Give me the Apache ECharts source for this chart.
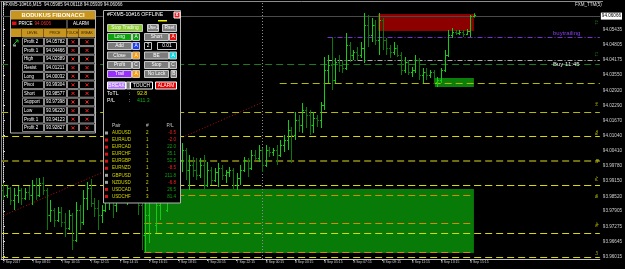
<!DOCTYPE html>
<html>
<head>
<meta charset="utf-8">
<script src="https://cdn.jsdelivr.net/npm/echarts@6/dist/echarts.min.js"></script>
<style>
  html, body { margin: 0; padding: 0; background: #000; }
  #chart { width: 625px; height: 269px; }
</style>
</head>
<body>
<div id="chart"></div>
<script>
  // time axis: a label every 8 bars (M15)
  const timeTickBars = [0, 8, 16, 24, 32, 40, 48, 56, 64, 72, 80, 88, 96, 104, 112, 120, 128];
  const timeLabels = ['7 Sep 2017', '7 Sep 08:15', '7 Sep 10:15', '7 Sep 12:15', '7 Sep 14:15', '7 Sep 16:15',
    '7 Sep 18:15', '7 Sep 20:15', '7 Sep 22:15', '8 Sep 00:15', '8 Sep 03:15', '8 Sep 05:15', '8 Sep 07:15',
    '8 Sep 09:15', '8 Sep 11:15', '8 Sep 13:15', '8 Sep 15:15'];
  const priceTicks = [94.05435, 94.04805, 94.04175, 94.0355, 94.0292, 94.0229, 94.0167, 94.0104, 94.0041,
    93.9978, 93.9915, 93.9852, 93.97905, 93.97275, 93.96645, 93.96015];

  const open = [
    93.98783, 93.98576, 93.98866, 93.98368, 93.98576, 93.98783, 93.98451, 93.98700, 93.98576, 93.98990,
    93.98576, 93.99074, 93.98783, 93.97746, 93.97953, 93.97538, 93.97870, 93.97455, 93.97206, 93.97746,
    93.96708, 93.97953, 93.97455, 93.98451, 93.98866, 93.98244, 93.98036, 93.97746, 93.97953, 93.98368,
    93.98576, 93.98161, 93.98700, 93.98990, 93.98783, 93.99074, 93.99198, 93.98576, 93.98161, 93.96916,
    93.97746, 93.98368, 93.97331, 93.98161, 93.98783, 93.97953, 93.98990, 93.99613, 93.99198, 94.00028,
    94.00443, 93.99613, 93.99821, 93.99613, 93.99406, 93.99821, 93.98990, 93.99613, 93.99198, 93.99530,
    93.99696, 93.99406, 93.99530, 93.99613, 93.98990, 93.99281, 93.99613, 94.00028, 93.99696, 94.00236,
    94.00111, 94.00443, 93.99821, 94.00443, 94.00360, 94.00443, 94.00236, 94.00651, 94.00858, 94.01273,
    94.01066, 94.01688, 94.01481, 94.02103, 94.01896, 94.01481, 94.01771, 94.01688, 94.02311, 94.03763,
    94.03971, 94.03348, 94.04095, 94.03971, 94.03846, 94.04801, 94.04386, 94.04510, 94.04386, 94.04676,
    94.05631, 94.05216, 94.05631, 94.05008, 94.05838, 94.05008, 94.04676, 94.04510, 94.04676, 94.04386,
    94.03763, 94.04095, 94.03680, 94.03763, 94.04178, 94.03556, 94.03680, 94.03556, 94.03680, 94.03265,
    94.03348, 94.03763, 94.04386, 94.05216, 94.05340, 94.05299, 94.05340, 94.05257, 94.05382, 94.05985
  ];
  const close = [
    93.98576, 93.98866, 93.98368, 93.98576, 93.98783, 93.98451, 93.98700, 93.98576, 93.98990, 93.98576,
    93.99074, 93.98783, 93.97746, 93.97953, 93.97538, 93.97870, 93.97455, 93.97206, 93.97746, 93.96708,
    93.97953, 93.97455, 93.98451, 93.98866, 93.98244, 93.98036, 93.97746, 93.97953, 93.98368, 93.98576,
    93.98161, 93.98700, 93.98990, 93.98783, 93.99074, 93.99198, 93.98576, 93.98161, 93.96916, 93.97746,
    93.98368, 93.97331, 93.98161, 93.98783, 93.97953, 93.98990, 93.99613, 93.99198, 94.00028, 94.00443,
    93.99613, 93.99821, 93.99613, 93.99406, 93.99821, 93.98990, 93.99613, 93.99198, 93.99530, 93.99696,
    93.99406, 93.99530, 93.99613, 93.98990, 93.99281, 93.99613, 94.00028, 93.99696, 94.00236, 94.00111,
    94.00443, 93.99821, 94.00443, 94.00360, 94.00443, 94.00236, 94.00651, 94.00858, 94.01273, 94.01066,
    94.01688, 94.01481, 94.02103, 94.01896, 94.01481, 94.01771, 94.01688, 94.02311, 94.03763, 94.03971,
    94.03348, 94.04095, 94.03971, 94.03846, 94.04801, 94.04386, 94.04510, 94.04386, 94.04676, 94.05631,
    94.05216, 94.05631, 94.05008, 94.05838, 94.05008, 94.04676, 94.04510, 94.04676, 94.04386, 94.03763,
    94.04095, 94.03680, 94.03763, 94.04178, 94.03556, 94.03680, 94.03556, 94.03680, 94.03265, 94.03348,
    94.03763, 94.04386, 94.05216, 94.05340, 94.05299, 94.05340, 94.05257, 94.05382, 94.05985, 94.06066
  ];
  const high = [
    93.99074, 93.98990, 93.98908, 93.98866, 93.98949, 93.98866, 93.98866, 93.98949, 93.99198, 93.99281,
    93.99281, 93.99323, 93.98866, 93.98368, 93.98036, 93.98078, 93.98078, 93.97829, 93.97953, 93.97829,
    93.98285, 93.98161, 93.98783, 93.99115, 93.99240, 93.98451, 93.98368, 93.98161, 93.98576, 93.98783,
    93.98990, 93.98866, 93.99198, 93.99406, 93.99281, 93.99530, 93.99406, 93.98990, 93.98576, 93.98368,
    93.98990, 93.99198, 93.98783, 93.99406, 93.99613, 93.99406, 94.00028, 94.00236, 94.00443, 94.00734,
    94.00526, 94.00236, 94.00153, 94.00111, 94.00111, 94.00236, 93.99945, 93.99738, 93.99696, 93.99904,
    93.99821, 93.99613, 93.99738, 93.99696, 93.99489, 93.99821, 94.00153, 94.00111, 94.00443, 94.00443,
    94.00651, 94.00526, 94.00651, 94.00568, 94.00526, 94.00651, 94.00858, 94.01066, 94.01688, 94.01398,
    94.02020, 94.01896, 94.02394, 94.02228, 94.02103, 94.02020, 94.01896, 94.02435, 94.04303, 94.04386,
    94.05133, 94.04261, 94.04386, 94.04178, 94.05299, 94.04925, 94.04593, 94.04718, 94.04925, 94.06129,
    94.06046, 94.05921, 94.05838, 94.06129, 94.05921, 94.05091, 94.04801, 94.04925, 94.04801, 94.04510,
    94.04303, 94.04178, 94.03888, 94.04386, 94.04261, 94.03846, 94.03846, 94.03763, 94.03763, 94.03473,
    94.03846, 94.04593, 94.05423, 94.05506, 94.05423, 94.05423, 94.05423, 94.05465, 94.06046, 94.06118
  ];
  const low = [
    93.98368, 93.98451, 93.98161, 93.97953, 93.98244, 93.98161, 93.98368, 93.98368, 93.98161, 93.98368,
    93.98493, 93.98576, 93.97123, 93.97455, 93.97248, 93.97455, 93.97248, 93.96833, 93.97123, 93.96293,
    93.96625, 93.97123, 93.97331, 93.97953, 93.98078, 93.97663, 93.97123, 93.97414, 93.97870, 93.97953,
    93.97621, 93.97870, 93.98368, 93.98451, 93.98161, 93.98576, 93.98368, 93.97746, 93.96293, 93.96169,
    93.96584, 93.96625, 93.96999, 93.97538, 93.97538, 93.97870, 93.98368, 93.98576, 93.98990, 93.99530,
    93.99198, 93.98783, 93.99323, 93.99198, 93.99281, 93.98700, 93.98908, 93.98990, 93.99115, 93.98908,
    93.99198, 93.99074, 93.99323, 93.98659, 93.98783, 93.98990, 93.99530, 93.99323, 93.99613, 94.00028,
    93.99945, 93.99530, 93.99738, 94.00153, 94.00194, 93.99821, 94.00153, 94.00360, 94.00443, 93.99904,
    94.00858, 94.01190, 94.01149, 94.01356, 94.01066, 94.01149, 94.01398, 94.01356, 94.02103, 94.03224,
    94.02933, 94.03224, 94.03680, 94.03639, 94.03763, 94.04095, 94.04178, 94.04178, 94.04261, 94.04054,
    94.04718, 94.04925, 94.04801, 94.04386, 94.04593, 94.04386, 94.04261, 94.04386, 94.04303, 94.03556,
    94.03639, 94.03556, 94.03473, 94.03639, 94.03348, 94.03224, 94.03348, 94.03431, 94.03182, 94.03058,
    94.03224, 94.03680, 94.04303, 94.05091, 94.05216, 94.05216, 94.05133, 94.05216, 94.05133, 94.05939
  ];

  // fibo levels from the panel table
  const levelNames = ['Profit 2', 'Profit 1', 'High', 'Resist', 'Long', 'Pivot', 'Short', 'Support', 'Low', 'Profit 1', 'Profit 2'];
  const levelPrices = [94.05782, 94.04466, 94.02389, 94.01211, 94.00032, 93.99304, 93.98577, 93.97398, 93.96220, 93.94123, 93.92827];
  const levelTags = ['T2', 'T1', 'Hi', 'Rs', 'Lg', 'Pv', 'Sh', 'Sp', 'Lo'];

  const pairs = ['AUDUSD', 'EURAUD', 'EURCAD', 'EURCHF', 'EURGBP', 'EURNZD', 'GBPUSD', 'NZDUSD', 'USDCAD', 'USDCHF'];
  const pairCount = [2, 1, 1, 1, 1, 1, 3, 2, 1, 3];
  const pairPL = [-0.5, -2.0, 22.0, 35.1, 52.5, -8.5, 211.8, -6.8, 26.5, 81.4];
  const pairSell = [false, true, true, true, true, true, false, false, true, true];

  const lastPrice = 94.06066;
  const buyPrice = 94.04178;
  const trailPrice = 94.05133;
  const entryLine = 94.03224;

  // zones: [fromBar, toBar, top, bottom]
  const redZone = [102.7, 129, 94.06087, 94.05382];
  const smallGreenZone = [118.3, 129, 94.03431, 94.03058];
  const bigGreenZone = [38.7, 129, 93.98825, 93.96169];

  let bars = [];
  for (let i = 0; i < open.length; i++) {
    bars.push([i, open[i], close[i], low[i], high[i]]);
  }

  const levelColors = ['#1d7a1d', '#1d7a1d', '#b8b800', '#dada00', '#6e6e10', '#dada00', '#dada00', '#dada00', '#dada00'];

  function renderBar(params, api) {
    let x = api.value(0);
    let o = api.coord([x, api.value(1)]);
    let c = api.coord([x, api.value(2)]);
    let l = api.coord([x, api.value(3)]);
    let h = api.coord([x, api.value(4)]);
    let up = api.value(2) >= api.value(1);
    let col = up ? '#14cc14' : '#0b780b';
    let cx = Math.round(h[0]) + 0.5;
    let oy = Math.round(o[1]) + 0.5;
    let cy = Math.round(c[1]) + 0.5;
    return {
      type: 'group',
      children: [
        { type: 'line', shape: { x1: cx, y1: h[1], x2: cx, y2: l[1] }, style: { stroke: col, lineWidth: 1 } },
        { type: 'line', shape: { x1: cx - 1.5, y1: oy, x2: cx, y2: oy }, style: { stroke: col, lineWidth: 1 } },
        { type: 'line', shape: { x1: cx, y1: cy, x2: cx + 1.5, y2: cy }, style: { stroke: col, lineWidth: 1 } }
      ]
    };
  }

  // level lines
  let levelLines = [];
  for (let i = 0; i < levelTags.length; i++) {
    levelLines.push({
      yAxis: levelPrices[i],
      lineStyle: { color: levelColors[i], type: [7, 4], width: i === 4 ? 2 : 1 }
    });
  }
  // inside the green zone the lower lines show orange
  [6, 7, 8].forEach(function (k) {
    levelLines.push([
      { coord: [bigGreenZone[0], levelPrices[k]], lineStyle: { color: '#d88a00', type: [7, 4], width: 1 } },
      { coord: [bigGreenZone[1], levelPrices[k]] }
    ]);
  });
  levelLines.push([
    { coord: [75.8, entryLine], lineStyle: { color: '#b8b800', type: [7, 4], width: 1 } },
    { coord: [163.5, entryLine] }
  ]);
  levelLines.push([
    { coord: [88.9, trailPrice], lineStyle: { color: '#7a2fd0', type: [5, 2, 1, 2], width: 1 } },
    { coord: [163.5, trailPrice] }
  ]);
  levelLines.push([
    { coord: [88.9, buyPrice], lineStyle: { color: '#b0b0b0', type: [5, 2, 1, 2], width: 1 } },
    { coord: [163.5, buyPrice] }
  ]);
  levelLines.push({ xAxis: 71, lineStyle: { color: '#8c8c8c', type: [1, 2], width: 1 } });

  // ---------- panels ----------
  const FONT = '"Liberation Sans", Arial, sans-serif';
  let g = [];
  function rect(x, y, w, h, fill, stroke) {
    g.push({ type: 'rect', z: 100, shape: { x: x, y: y, width: w, height: h },
      style: { fill: fill || 'none', stroke: stroke || null, lineWidth: 1 } });
  }
  function line(x1, y1, x2, y2, color) {
    g.push({ type: 'line', z: 101, shape: { x1: x1, y1: y1, x2: x2, y2: y2 }, style: { stroke: color, lineWidth: 1 } });
  }
  function txt(x, y, s, color, size, align, weight) {
    g.push({ type: 'text', z: 102, x: x, y: y,
      style: { text: s, fill: color, font: (weight || 'normal') + ' ' + size + 'px ' + FONT,
        align: align || 'left', verticalAlign: 'middle' } });
  }
  function cross(cx, cy) {
    line(cx - 1.5, cy - 1.5, cx + 1.5, cy + 1.5, '#ff2020');
    line(cx - 1.5, cy + 1.5, cx + 1.5, cy - 1.5, '#ff2020');
  }
  function btn(x, y, w, h, fill, label, border, color) {
    rect(x + 0.5, y + 0.5, w, h, fill, border || '#c8c8c8');
    txt(x + 0.5 + w / 2, y + 0.5 + h / 2, label, color || '#ffffff', 4.8, 'center');
  }

  // chart title + indicator name
  txt(3, 5, '#FXM5-10#16,M15  94.05985 94.06118 94.05939 94.06066', '#e8e8e8', 4.5);
  txt(575, 5, 'FXM_TTM(5)', '#e0e0e0', 4.5);
  txt(553, 33, 'buytrailing', '#8a3ff0', 6);
  txt(553, 64, 'Buy 11:45', '#e8e8e8', 6);

  // panel 1 : fibonacci table
  rect(10.5, 10.5, 85, 122.5, '#000', '#b4b4b4');
  rect(11, 11, 84, 8.5, '#c8961e');
  txt(53, 15.5, 'BODUKUS FIBONACCI', '#ffffff', 5.8, 'center', 'bold');
  rect(12, 21.5, 4.5, 3.5, '#e01010');
  txt(18.5, 24, 'PRICE', '#ffffff', 4.6);
  txt(34.5, 24, '94.0606', '#ff3030', 4.6);
  line(67, 20, 67, 28, '#909090');
  txt(81, 24, 'ALARM', '#ffffff', 4.6, 'center');
  rect(11, 28.5, 84, 8.5, '#c8961e');
  [21.5, 43.5, 66.5, 78.5].forEach(function (x) { line(x, 28.5, x, 37, '#7a5a10'); });
  txt(32.5, 33, 'LEVEL', '#3a2200', 3.6, 'center');
  txt(55, 33, 'PRICE', '#3a2200', 3.6, 'center');
  txt(72.5, 33, 'TOUCH', '#3a2200', 3.2, 'center');
  txt(87, 33, 'BREAK', '#3a2200', 3.4, 'center');
  for (let k = 0; k < levelNames.length; k++) {
    let yt = 37.5 + 8.6 * k;
    rect(22.5, yt + 0.5, 21, 7.6, '#000', '#8c8c8c');
    rect(44.5, yt + 0.5, 22, 7.6, '#000', '#8c8c8c');
    rect(67.5, yt + 0.5, 11, 7.6, '#000', '#8c8c8c');
    rect(79.5, yt + 0.5, 15, 7.6, '#000', '#8c8c8c');
    txt(24, yt + 4.4, levelNames[k], '#ffffff', 4.5);
    txt(46, yt + 4.4, levelPrices[k].toFixed(5), '#ffffff', 4.5);
    cross(73, yt + 4.3);
    cross(87, yt + 4.3);
  }
  line(13, 45, 18, 40, '#20c020');
  line(15.5, 40, 18, 40, '#20c020');
  line(18, 40, 18, 42.5, '#20c020');
  rect(13, 44.5, 3, 2, '#9a9a9a');

  // panel 2 : trade manager
  rect(103.5, 10.5, 77, 192.5, '#000', '#b4b4b4');
  txt(107, 15, '#FXM5-10#16 OFFLINE', '#ffffff', 5.2);
  rect(174, 12, 6, 6, '#e02020', '#ffffff');
  txt(177, 15, 'x', '#ffffff', 5, 'center', 'bold');
  rect(158, 20, 9, 1.5, '#f0f000');

  btn(107, 24, 35, 7, '#8ccf2c', 'Stop Trading');
  btn(147, 24, 11, 7, '#7c7c7c', 'Use1');
  btn(162, 24, 14, 7, '#7c7c7c', 'Rset');

  btn(107, 33, 24, 7, '#10a010', 'Long');
  btn(132, 33, 7, 7, '#10a010', 'A');
  btn(144, 33, 24, 7, '#7c7c7c', 'Short');
  btn(169, 33, 7, 7, '#e01010', 'A');

  btn(107, 42, 24, 7, '#7c7c7c', 'Add');
  btn(132, 42, 7, 7, '#1a3cff', 'A');
  btn(144, 42, 7, 7, '#000', '2');
  btn(157, 42, 19, 7, '#000', '0.01');

  btn(107, 51.5, 24, 7, '#7c7c7c', 'Close');
  btn(132, 51.5, 7, 7, '#ff9a00', 'A');
  btn(144, 51.5, 24, 7, '#7c7c7c', 'BE');
  btn(169, 51.5, 7, 7, '#10d8e0', 'A');

  btn(107, 61, 24, 7, '#7c7c7c', 'Profit');
  btn(132, 61, 7, 7, '#7c7c7c', 'C');
  btn(144, 61, 24, 7, '#7c7c7c', 'Stop');
  btn(169, 61, 7, 7, '#7c7c7c', 'C');

  btn(107, 70, 24, 7, '#9a30ff', 'Trail');
  btn(132, 70, 7, 7, '#ff9a00', 'A');
  btn(144, 70, 24, 7, '#7c7c7c', 'No Lock');
  btn(170.5, 70, 5.5, 7, '#7c7c7c', 'B');

  btn(107, 81.5, 18, 7, '#b070ff', 'BREAK', '#ffffff');
  btn(126, 81.5, 3.5, 7, '#7c7c7c', '');
  btn(130, 81.5, 22, 7, '#000', 'TOUCH', '#ffffff');
  btn(155, 81.5, 21, 7, '#e00000', 'ALARM', '#ffffff');

  txt(107, 94, 'ToTL', '#ffffff', 5.2);
  txt(129, 94, ':', '#ffffff', 5.2);
  txt(137, 94, '92.8', '#e6e600', 5.2);
  txt(107, 101, 'P/L', '#ffffff', 5.2);
  txt(129, 101, ':', '#ffffff', 5.2);
  txt(137, 101, '411.3', '#10b010', 5.2);

  txt(112, 125.5, 'Pair', '#c8c8c8', 4.8);
  txt(146, 125.5, '#', '#c8c8c8', 4.8);
  txt(170, 125.5, 'P/L', '#c8c8c8', 4.8, 'center');
  for (let k = 0; k < pairs.length; k++) {
    let yy = 133 + 7.05 * k;
    rect(105, yy - 1.5, 3, 3, pairSell[k] ? '#e01010' : '#a0a0a0');
    txt(112, yy, pairs[k], '#d8d800', 4.5);
    txt(146, yy, String(pairCount[k]), '#d8d800', 4.5);
    txt(176, yy, pairPL[k].toFixed(1), pairPL[k] < 0 ? '#ff2020' : '#10a010', 4.5, 'right');
  }

  // chart frame
  line(0.5, 1.5, 603, 1.5, '#8c8c8c');
  line(1.5, 1.5, 1.5, 259, '#8c8c8c');

  let myChart = echarts.init(document.getElementById('chart'));
  let option = {
    backgroundColor: '#000000',
    animation: false,
    grid: { left: 1, right: 22, top: 1, bottom: 10, show: false },
    xAxis: {
      type: 'value',
      min: -0.5,
      max: 163.5,
      axisLine: { lineStyle: { color: '#c0c0c0' } },
      axisTick: { customValues: timeTickBars, length: 2, lineStyle: { color: '#c0c0c0' } },
      axisLabel: {
        customValues: timeTickBars,
        formatter: function (v) { return timeLabels[timeTickBars.indexOf(v)]; },
        align: 'left',
        fontSize: 3.4,
        fontFamily: 'Liberation Sans',
        color: '#d0d0d0',
        margin: 2
      },
      splitLine: { show: false }
    },
    yAxis: {
      type: 'value',
      position: 'right',
      min: 93.9592,
      max: 94.06627,
      axisLine: { show: true, lineStyle: { color: '#d8d8d8', type: [1, 1] } },
      axisTick: { show: true, customValues: priceTicks, length: 2, lineStyle: { color: '#d0d0d0' } },
      axisLabel: {
        customValues: priceTicks,
        formatter: function (v) { return v.toFixed(5); },
        fontSize: 4.6,
        fontFamily: 'Liberation Sans',
        color: '#d0d0d0',
        margin: 3
      },
      splitLine: { show: false }
    },
    series: [
      {
        name: 'zones',
        type: 'line',
        data: [],
        z: 1,
        markArea: {
          silent: true,
          data: [
            [{ coord: [redZone[0], redZone[2]], itemStyle: { color: '#8c0000' } }, { coord: [redZone[1], redZone[3]] }],
            [{ coord: [bigGreenZone[0], bigGreenZone[2]], itemStyle: { color: '#087a08' } }, { coord: [bigGreenZone[1], bigGreenZone[3]] }],
            [{ coord: [smallGreenZone[0], smallGreenZone[2]], itemStyle: { color: '#0a800a' } }, { coord: [smallGreenZone[1], smallGreenZone[3]] }]
          ]
        }
      },
      {
        name: 'levels',
        type: 'line',
        data: [],
        z: 2,
        markLine: {
          silent: true,
          symbol: ['none', 'none'],
          label: { show: false },
          data: levelLines
        }
      },
      {
        name: 'trend',
        type: 'line',
        data: [[-0.5, 93.9768], [70.6, 94.0239]],
        symbol: 'none',
        z: 2,
        lineStyle: { color: '#b01010', width: 1, type: [1, 2] }
      },
      {
        name: 'FXM5-10#16',
        type: 'custom',
        renderItem: renderBar,
        data: bars,
        encode: { x: 0, y: [1, 2, 3, 4] },
        z: 5,
        markLine: {
          silent: true,
          symbol: ['none', 'none'],
          data: [{ yAxis: lastPrice }],
          lineStyle: { color: '#4a4a4a', type: 'solid', width: 1 },
          label: {
            show: true,
            position: 'end',
            formatter: lastPrice.toFixed(5),
            backgroundColor: '#ffffff',
            color: '#000000',
            fontSize: 4.6,
            padding: [1, 1],
            distance: 1
          }
        }
      }
    ],
    graphic: { elements: g }
  };
  myChart.setOption(option);

  // small level tags at the right end of each level line, just above the line
  let tags = [];
  for (let i = 0; i < levelTags.length; i++) {
    let p = myChart.convertToPixel({ gridIndex: 0 }, [163.5, levelPrices[i]]);
    tags.push({ type: 'text', z: 103, x: p[0] - 3, y: p[1] - 1, rotation: Math.PI / 2,
      style: { text: levelTags[i], fill: i < 2 ? '#20a020' : '#e0e000', font: '3.6px ' + FONT,
        align: 'right', verticalAlign: 'middle' } });
  }
  myChart.setOption({ graphic: { elements: g.concat(tags) } });

  window.addEventListener('resize', function () {
    myChart.resize();
  });
</script>
</body>
</html>
